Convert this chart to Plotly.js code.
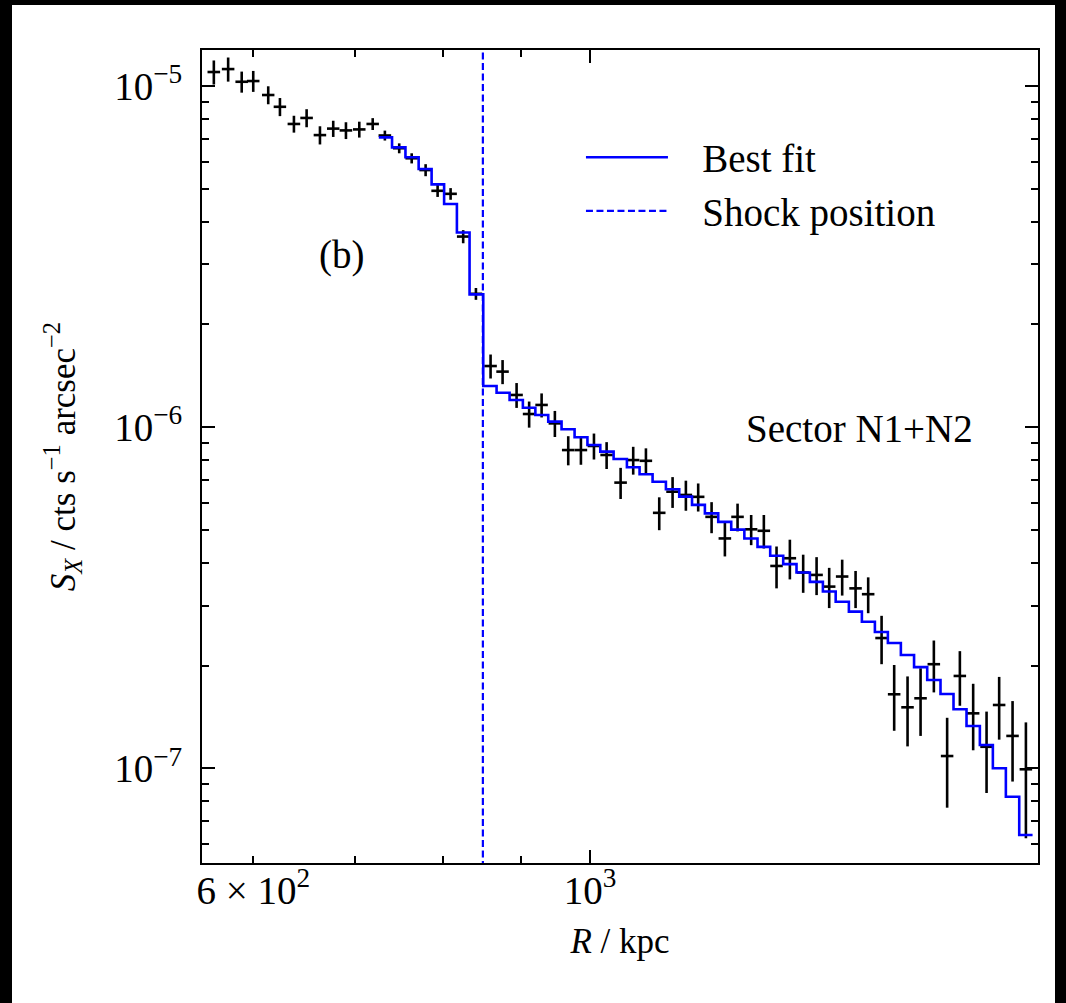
<!DOCTYPE html>
<html><head><meta charset="utf-8">
<script src="https://cdn.plot.ly/plotly-3.0.1.min.js"></script>
<style>
html,body{margin:0;padding:0;background:#000;width:1066px;height:1003px;overflow:hidden}
#plot{position:absolute;left:12px;top:5px;width:1043px;height:998px;background:#fff}
</style>
</head><body><div id="plot"></div>
<script>
// Surface-brightness profile, sector N1+N2
const radius = [565.2, 577.6, 589.6, 600.0, 613.8, 624.8, 638.2, 650.6, 663.9, 677.4, 690.6, 704.7, 719.2,
  732.6, 748.7, 763.0, 779.3, 793.6, 809.4, 825.0, 841.1,
  860.0, 875.8, 894.6, 911.8, 929.2, 948.1, 967.5, 986.3, 1006.0, 1025.5, 1047.5, 1067.7, 1088.5, 1110.7,
  1133.4, 1156.5, 1178.3, 1202.5, 1227.0, 1250.8, 1276.9, 1301.7, 1327.0, 1354.1, 1381.7, 1410.1, 1437.3,
  1465.9, 1496.0, 1524.9, 1556.2, 1586.2, 1618.7, 1651.0, 1684.6, 1718.9, 1752.4, 1788.1, 1824.8, 1860.0,
  1898.2, 1937.0];
const radiusErr = [5.4, 5.5, 5.6, 5.7, 5.8, 5.9, 6.1, 6.2, 6.3, 6.4, 6.6, 6.7, 6.8,
  7.0, 7.1, 7.2, 7.4, 7.5, 7.7, 7.8, 8.0,
  8.2, 8.3, 8.5, 8.7, 8.8, 9.0, 9.2, 9.4, 9.6, 9.7, 10.0, 10.1, 10.3, 10.6,
  10.8, 11.0, 11.2, 11.4, 11.7, 11.9, 12.1, 12.4, 12.6, 12.9, 13.1, 13.4, 13.7,
  13.9, 14.2, 14.5, 14.8, 15.1, 15.4, 15.7, 16.0, 16.3, 16.6, 17.0, 17.3, 17.7,
  18.0, 18.4];
const brightness = [1.099e-5, 1.121e-5, 1.029e-5, 1.034e-5, 9.41e-6, 8.69e-6, 7.74e-6, 8.06e-6, 7.18e-6, 7.50e-6, 7.41e-6, 7.46e-6, 7.74e-6,
  7.16e-6, 6.57e-6, 6.14e-6, 5.67e-6, 4.93e-6, 4.83e-6, 3.62e-6, 2.46e-6,
  1.511e-6, 1.455e-6, 1.243e-6, 1.093e-6, 1.162e-6, 1.026e-6, 8.57e-7, 8.57e-7, 8.81e-7, 8.29e-7, 6.88e-7, 8.01e-7, 7.97e-7, 5.61e-7,
  6.47e-7, 6.33e-7, 6.25e-7, 5.46e-7, 4.72e-7, 5.46e-7, 5.02e-7, 4.97e-7, 3.92e-7, 4.13e-7, 3.75e-7, 3.69e-7, 3.41e-7,
  3.65e-7, 3.37e-7, 3.24e-7, 2.41e-7, 1.649e-7, 1.510e-7, 1.605e-7, 2.02e-7, 1.087e-7, 1.866e-7, 1.450e-7, 1.157e-7, 1.534e-7,
  1.245e-7, 9.94e-8];
const brightnessErr = [8.9e-7, 9.1e-7, 7.3e-7, 7.3e-7, 5.7e-7, 5.3e-7, 4.4e-7, 4.9e-7, 4.4e-7, 4.1e-7, 4.2e-7, 4.0e-7, 3.1e-7,
  2.4e-7, 2.2e-7, 2.1e-7, 2.3e-7, 2.0e-7, 1.9e-7, 1.6e-7, 9.8e-8,
  1.22e-7, 1.18e-7, 1.04e-7, 9.6e-8, 9.4e-8, 9.0e-8, 8.4e-8, 8.1e-8, 7.7e-8, 7.5e-8, 7.2e-8, 7.5e-8, 7.0e-8, 6.2e-8,
  6.7e-8, 6.4e-8, 5.9e-8, 5.7e-8, 5.4e-8, 5.1e-8, 5.1e-8, 5.6e-8, 5.5e-8, 5.5e-8, 4.8e-8, 4.7e-8, 4.6e-8,
  4.4e-8, 4.2e-8, 3.9e-8, 3.9e-8, 3.6e-8, 3.5e-8, 3.6e-8, 3.5e-8, 3.2e-8, 3.4e-8, 3.2e-8, 3.1e-8, 3.2e-8,
  3.3e-8, 3.7e-8];
// best-fit model, one value per bin from the 14th bin outward
const fitValues = [7.07e-6, 6.61e-6, 6.18e-6, 5.71e-6, 5.15e-6, 4.51e-6, 3.72e-6, 2.45e-6,
  1.321e-6, 1.262e-6, 1.202e-6, 1.140e-6, 1.086e-6, 1.038e-6, 9.86e-7, 9.34e-7, 8.87e-7, 8.48e-7,
  8.07e-7, 7.63e-7, 7.28e-7, 6.92e-7, 6.58e-7, 6.26e-7, 5.92e-7, 5.59e-7, 5.28e-7, 5.01e-7,
  4.72e-7, 4.46e-7, 4.20e-7, 3.97e-7, 3.75e-7, 3.52e-7, 3.30e-7, 3.08e-7, 2.88e-7, 2.69e-7,
  2.51e-7, 2.33e-7, 2.15e-7, 1.98e-7, 1.816e-7, 1.652e-7, 1.490e-7, 1.331e-7, 1.171e-7, 1.001e-7,
  8.26e-8, 6.38e-8];
const shockRadius = 850;
const xTickVals = [600, 1000];
const xTickText = ['6 × 10<sup>2</sup>', '10<sup>3</sup>'];
const yTickVals = [1e-7, 1e-6, 1e-5];
const yTickText = ['10<sup>−7</sup>', '10<sup>−6</sup>', '10<sup>−5</sup>'];

// bin edges of the model steps (geometric midpoints between bin centres)
const start = radius.length - fitValues.length;
const fitX = [], fitY = [];
for (let i = start; i < radius.length; i++) {
  fitX.push(Math.sqrt(radius[i - 1] * radius[i]));
  fitY.push(fitValues[i - start]);
}
const nL = radius.length - 1;
fitX.push(radius[nL] * Math.sqrt(radius[nL] / radius[nL - 1]));
fitY.push(fitValues[fitValues.length - 1]);

const minorY = [];
[1e-8, 1e-7, 1e-6].forEach(d => { for (let k = 2; k <= 9; k++) minorY.push(k * d); });

const FONT = '"Liberation Serif", serif';
const NB = '\u00a0\u00a0\u00a0';
const traces = [
  {x: radius, y: brightness, type: 'scatter', mode: 'markers', showlegend: false,
   marker: {size: 0, color: 'rgba(0,0,0,0)', line: {width: 0}},
   error_x: {type: 'data', array: radiusErr, color: '#000', thickness: 2.6, width: 0},
   error_y: {type: 'data', array: brightnessErr, color: '#000', thickness: 2.6, width: 0}},
  {x: fitX, y: fitY, type: 'scatter', mode: 'lines', name: NB + 'Best fit',
   line: {shape: 'hv', color: '#0000ff', width: 2.6}},
  {x: [shockRadius, shockRadius], y: [1e-8, 1e-4], type: 'scatter', mode: 'lines', name: NB + 'Shock position',
   line: {color: '#0000ff', width: 2.2, dash: '7px,3.5px'}},
  {x: [1000], y: [1e-6], xaxis: 'x2', type: 'scatter', mode: 'markers', showlegend: false,
   marker: {size: 0, color: 'rgba(0,0,0,0)'}, hoverinfo: 'skip'}
];

const axisCommon = {showgrid: false, zeroline: false, showline: true, linecolor: '#000', linewidth: 2,
  mirror: 'ticks', ticks: 'inside', tickcolor: '#000', tickwidth: 2};

const layout = {
  width: 1043, height: 998,
  margin: {l: 190, r: 17, t: 45, b: 140},
  paper_bgcolor: '#fff', plot_bgcolor: '#fff',
  font: {family: FONT, color: '#000'},
  showlegend: true,
  xaxis: Object.assign({}, axisCommon, {
    type: 'log', range: [2.7444, 3.2951], tickmode: 'array', tickvals: xTickVals, ticktext: xTickText,
    ticklen: 7, tickfont: {size: 39, family: FONT}, ticklabelstandoff: -8,
    minor: {tickmode: 'array', tickvals: [700, 800, 900], ticks: 'inside', ticklen: 7, tickwidth: 2, tickcolor: '#000'},
    title: {text: '<i>R</i> / kpc', font: {size: 35, family: FONT}, standoff: 18}
  }),
  xaxis2: Object.assign({}, axisCommon, {
    type: 'log', range: [2.7444, 3.2951], overlaying: 'x', side: 'bottom', tickmode: 'array',
    tickvals: [1000], ticklen: 13, showticklabels: false, showline: false
  }),
  yaxis: Object.assign({}, axisCommon, {
    type: 'log', range: [-7.2773, -4.8945], tickmode: 'array', tickvals: yTickVals, ticktext: yTickText,
    ticklen: 13, tickfont: {size: 39, family: FONT}, ticklabelstandoff: 10,
    minor: {tickmode: 'array', tickvals: minorY, ticks: 'inside', ticklen: 7, tickwidth: 2, tickcolor: '#000'},
    title: {text: '<i>S</i><sub><i>X</i></sub> / cts s<sup>−1</sup> arcsec<sup>−2</sup>', font: {size: 35, family: FONT}, standoff: 28}
  }),
  legend: {x: 0.4533, y: 0.9073, xanchor: 'left', yanchor: 'top', bgcolor: 'rgba(0,0,0,0)', borderwidth: 0,
    font: {size: 39, family: FONT}, itemwidth: 82, tracegroupgap: 0},
  annotations: [
    {text: '(b)', xref: 'paper', yref: 'paper', x: 0.1663, y: 0.7478, xanchor: 'center', yanchor: 'middle',
     showarrow: false, font: {size: 39, family: FONT}},
    {text: 'Sector N1+N2', xref: 'paper', yref: 'paper', x: 0.9246, y: 0.535, xanchor: 'right', yanchor: 'middle',
     showarrow: false, font: {size: 39, family: FONT}}
  ]
};

Plotly.newPlot('plot', traces, layout, {staticPlot: true, displayModeBar: false});
</script>
</body></html>
